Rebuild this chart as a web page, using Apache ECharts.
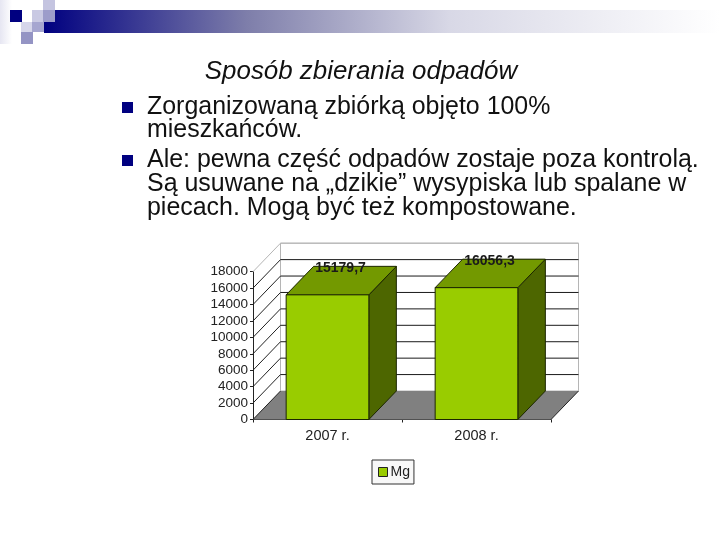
<!DOCTYPE html>
<html><head><meta charset="utf-8">
<style>html,body{margin:0;padding:0;background:#fff}#c{width:720px;height:540px}</style>
<script src="https://cdn.jsdelivr.net/npm/echarts@6/dist/echarts.min.js"></script>
</head><body><div id="c"></div>
<script>
const categories = ['2007 r.', '2008 r.'];
const mgValues = [15179.7, 16056.3];
const gridValues = [0, 2000, 4000, 6000, 8000, 10000, 12000, 14000, 16000, 18000];
const seriesName = 'Mg';
const titleText = 'Sposób zbierania odpadów';
const bullet1 = 'Zorganizowaną zbiórką objęto 100%\nmieszkańców.';
const bullet2 = 'Ale: pewna część odpadów zostaje poza kontrolą.\nSą usuwane na „dzikie” wysypiska lub spalane w\npiecach. Mogą być też kompostowane.';

const DX = 27.5, DY = -28.5;
const FONT = '"Liberation Sans", Arial, sans-serif';
const chart = echarts.init(document.getElementById('c'), null, {renderer:'canvas'});

function wallItem(params, api) {
  const cs = params.coordSys;
  const v = api.value(1);
  const y = api.coord([0, v])[1];
  const x0 = cs.x, x1 = cs.x + cs.width, kids = [];
  if (params.dataIndex === 0) {
    kids.push({type:'rect', shape:{x:x0+DX, y:cs.y+DY, width:cs.width, height:cs.height}, style:{fill:'#fff', stroke:'#b5b5b5', lineWidth:1}});
    kids.push({type:'polygon', shape:{points:[[x0,y],[x1,y],[x1+DX,y+DY],[x0+DX,y+DY]]}, style:{fill:'#808080'}});
    kids.push({type:'line', shape:{x1:x1, y1:y, x2:x1+DX, y2:y+DY}, style:{stroke:'#222', lineWidth:1}});
    kids.push({type:'line', shape:{x1:x0, y1:y, x2:x0+DX, y2:y+DY}, style:{stroke:'#222', lineWidth:1}});
  } else {
    const top = v === gridValues[gridValues.length-1];
    kids.push({type:'line', shape:{x1:x0+DX, y1:y+DY, x2:x1+DX, y2:y+DY}, style:{stroke: top ? '#b5b5b5' : '#1a1a1a', lineWidth:1}});
    kids.push({type:'line', shape:{x1:x0, y1:y, x2:x0+DX, y2:y+DY}, style:{stroke: top ? '#b5b5b5' : '#222', lineWidth:1}});
  }
  return {type:'group', children:kids};
}

function barItem(params, api) {
  const c = api.coord([api.value(0), api.value(1)]);
  const base = api.coord([api.value(0), 0])[1];
  const w = api.size([1, 0])[0] * 0.555;
  const l = c[0] - w/2, r = c[0] + w/2, t = c[1];
  const line = {stroke:'#1c2600', lineWidth:1};
  return {type:'group', children:[
    {type:'polygon', shape:{points:[[r,t],[r+DX,t+DY],[r+DX,base+DY],[r,base]]}, style:{fill:'#4d6600', ...line}},
    {type:'polygon', shape:{points:[[l,t],[r,t],[r+DX,t+DY],[l+DX,t+DY]]}, style:{fill:'#739900', ...line}},
    {type:'rect', shape:{x:l, y:t, width:w, height:base-t}, style:{fill:'#99cc00', ...line}},
    {type:'text', style:{text:String(api.value(1)).replace('.', ','), x:c[0]+13, y:t+DY+2, align:'center', verticalAlign:'middle', font:'bold 14px '+FONT, fill:'#1a1a1a'}}
  ]};
}

const squares = [
  [10,10,12,12,'#000080'],[32,10,11,12,'#c9c9e3'],[43,0,12,10,'#c4c4e0'],[43,10,12,12,'#9c9cca'],
  [21,22,11,10,'#d6d6ea'],[32,22,12,10,'#a6a6d0'],[21,32,12,12,'#9494c4']
];

chart.setOption({
  animation:false,
  backgroundColor:'#fff',
  grid:{left:253, top:271.7, width:298, height:147.8, containLabel:false},
  xAxis:{type:'category', data:categories,
    axisLine:{lineStyle:{color:'#222', width:1}},
    axisTick:{show:true, length:3, lineStyle:{color:'#222'}},
    axisLabel:{color:'#222', fontFamily:'Liberation Sans', fontSize:14.5, margin:9}},
  yAxis:{type:'value', min:0, max:18000, interval:2000,
    axisLine:{show:true, lineStyle:{color:'#222', width:1}},
    axisTick:{show:true, length:3, lineStyle:{color:'#222'}},
    splitLine:{show:false},
    axisLabel:{color:'#222', fontFamily:'Liberation Sans', fontSize:13.5, margin:5, padding:[2,0,0,0], formatter:function(v){return String(v);}}},
  legend:{data:[{name:seriesName, icon:'rect', itemStyle:{color:'#99cc00', borderColor:'#222', borderWidth:1}}],
    left:372, top:460, itemWidth:9, itemHeight:9, itemGap:4, padding:[5,4,5,6],
    borderColor:'#333', borderWidth:1, backgroundColor:'#f8f8f8',
    textStyle:{color:'#222', fontFamily:'Liberation Sans', fontSize:14, padding:[0,0,0,-2]}},
  series:[
    {type:'custom', name:'wall', coordinateSystem:'cartesian2d', clip:false, silent:true, z:1, data:gridValues.map(v=>[0,v]), encode:{x:0,y:1}, renderItem:wallItem},
    {type:'custom', name:seriesName, coordinateSystem:'cartesian2d', clip:false, z:3, itemStyle:{color:'#99cc00'}, data:categories.map((c,i)=>[i,mgValues[i]]), encode:{x:0,y:1}, renderItem:barItem}
  ],
  graphic:[
    {type:'rect', z:0, shape:{x:0,y:0,width:12,height:44}, style:{fill:{type:'linear',x:0,y:0,x2:1,y2:0,colorStops:[{offset:0,color:'#e6e6f2'},{offset:1,color:'#ffffff'}]}}},
    {type:'rect', z:0, shape:{x:44,y:10,width:676,height:23}, style:{fill:{type:'linear',x:0,y:0,x2:1,y2:0,colorStops:[{offset:0,color:'#000080'},{offset:0.3,color:'#7e7eaa'},{offset:0.6,color:'#d8d8e6'},{offset:1,color:'#ffffff'}]}}},
    ...squares.map(s=>({type:'rect', z:1, shape:{x:s[0],y:s[1],width:s[2],height:s[3]}, style:{fill:s[4]}})),
    {type:'text', z:5, style:{text:titleText, x:361, y:72, align:'center', verticalAlign:'middle', font:'italic 25.9px '+FONT, fill:'#111', textShadowColor:'#9a9a9a', textShadowBlur:0, textShadowOffsetX:1, textShadowOffsetY:1}},
    {type:'rect', z:5, shape:{x:122,y:102,width:11,height:11}, style:{fill:'#000080'}},
    {type:'rect', z:5, shape:{x:122,y:155,width:11,height:11}, style:{fill:'#000080'}},
    {type:'text', z:5, style:{text:bullet1, x:147, y:95, font:'24.95px '+FONT, lineHeight:23.5, fill:'#111'}},
    {type:'text', z:5, style:{text:bullet2, x:147, y:148, font:'24.95px '+FONT, lineHeight:24, fill:'#111'}}
  ]
});
</script></body></html>
